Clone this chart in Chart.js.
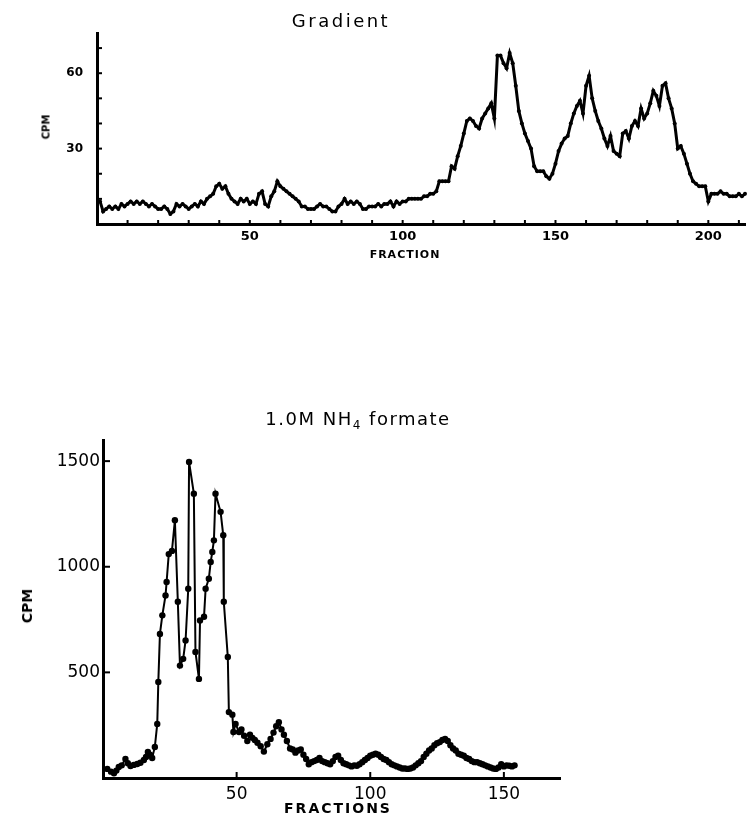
<!DOCTYPE html>
<html>
<head>
<meta charset="utf-8">
<script src="https://cdn.jsdelivr.net/npm/chart.js@4"></script>
<style>
  html, body { margin: 0; padding: 0; background: #fff; }
  body { width: 749px; height: 816px; position: relative; overflow: hidden;
         font-family: "DejaVu Sans", sans-serif; color: #000; }
  .box { position: absolute; left: 0; }
  .lbl { position: absolute; white-space: nowrap; font-weight: bold; transform: translate(-50%, -50%); }
  .rot { transform: translate(-50%, -50%) rotate(-90deg); }
</style>
</head>
<body>
<div class="box" style="top:0;width:749px;height:270px"><canvas id="top"></canvas></div>
<div class="box" style="top:400px;width:749px;height:416px"><canvas id="bottom"></canvas></div>

<div class="lbl" style="left:341px;top:20px;font-size:18px;font-weight:normal;letter-spacing:2.5px">Gradient</div>
<div class="lbl" style="left:405px;top:254px;font-size:11px;letter-spacing:1px">FRACTION</div>
<div class="lbl rot" style="left:46px;top:127px;font-size:10px">CPM</div>

<div class="lbl" style="left:358px;top:420px;font-size:18px;font-weight:normal;letter-spacing:1.5px">1.0M NH<sub style="font-size:12px">4</sub> formate</div>
<div class="lbl" style="left:338px;top:808px;font-size:14px;letter-spacing:2px">FRACTIONS</div>
<div class="lbl rot" style="left:27px;top:606px;font-size:14px">CPM</div>

<script>
/* Gradient elution: one count per fraction, fractions 1..212 */
const gradientCpm = [
   9, 5, 6, 7, 6, 7, 6, 8, 7, 8,   9, 8, 9, 8, 9, 8, 7, 8, 7, 6,
   6, 7, 6, 4, 5, 8, 7, 8, 7, 6,   7, 8, 7, 9, 8,10,11,12,15,16,
  14,15,12,10, 9, 8,10, 9,10, 8,   9, 8,12,13, 8, 7,11,13,17,15,
  14,13,12,11,10, 9, 7, 7, 6, 6,   6, 7, 8, 7, 7, 6, 5, 5, 7, 8,
  10, 8, 9, 8, 9, 8, 6, 6, 7, 7,   7, 8, 7, 8, 8, 9, 7, 9, 8, 9,
   9,10,10,10,10,10,11,11,12,12,  13,17,17,17,17,23,22,27,31,36,
  41,42,41,39,38,42,44,46,48,42,  67,67,64,62,68,64,55,45,40,36,
  33,30,23,21,21,21,19,18,20,24,  29,32,34,35,40,44,47,49,44,55,
  59,50,45,41,38,34,31,35,29,28,  27,36,37,34,39,41,39,46,42,44,
  48,53,51,47,55,56,50,46,40,30,  31,28,24,20,17,16,15,15,15, 9,
  12,12,12,13,12,12,11,11,11,12,  11,12
];
const gradientFractions = gradientCpm.map((_, i) => i + 1);
const gradientXTicks = [10, 20, 30, 40, 50, 60, 70, 80, 90, 100, 110, 120, 130, 140, 150, 160, 170, 180, 190, 200, 210];
const gradientXLabels = [50, 100, 150, 200];
const gradientYTicks = [10, 20, 30, 40, 50, 60, 70];
const gradientYLabels = [30, 60];

const formateFractions = [
  1.6, 3, 4.1, 5, 5.9, 7, 8.4, 9.3, 10.3, 11.5, 12.8, 14, 15.3, 16.1, 16.8, 17.6, 18.4, 19.4,
  20.3, 20.7, 21.3, 22.2, 23.4, 23.8, 24.6, 25.8, 26.9, 28, 28.8, 30, 30.9, 31.9, 32.2, 34,
  34.6, 35.9, 36.3, 37.8, 38.4, 39.6, 40.3, 40.9, 41.5, 42.1, 44, 45, 45.2, 46.7, 47.1, 48.4,
  48.8, 49.6, 50.9, 51.8, 52.8, 54, 55, 55.9, 56.8, 57.8, 59, 60.2, 61.5, 62.7, 63.8, 64.8,
  65.8, 66.8, 67.7, 68.8, 70,
  71, 72, 73, 74, 75, 76, 77, 78, 79, 80, 81, 82, 83, 84, 85, 86, 87, 88, 89, 90,
  91, 92, 93, 94, 95, 96, 97, 98, 99, 100, 101, 102, 103, 104, 105, 106, 107, 108, 109, 110,
  111, 112, 113, 114, 115, 116, 117, 118, 119, 120, 121, 122, 123, 124, 125, 126, 127, 128, 129, 130,
  131, 132, 133, 134, 135, 136, 137, 138, 139, 140, 141, 142, 143, 144, 145, 146, 147, 148, 149, 150,
  151, 152, 153, 154
];
const formateCpm = [
  43, 30, 22, 35, 52, 60, 90, 70, 57, 62, 66, 72, 85, 100, 123, 110, 95, 147,
  256, 455, 682, 770, 864, 928, 1060, 1075, 1220, 834, 532, 564, 651, 896, 1496, 1346,
  597, 469, 746, 763, 896, 943, 1023, 1070, 1125, 1346, 1260, 1149, 834, 573, 312, 300,
  218, 256, 218, 230, 200, 175, 205, 190, 180, 167, 150, 125, 160, 185, 215, 245,
  264, 230, 205, 175, 140,
  135, 120, 130, 135, 110, 90, 65, 75, 80, 85, 95, 80, 75, 70, 65, 80, 100, 105, 85, 70,
  65, 60, 55, 60, 58, 65, 75, 85, 95, 105, 110, 115, 110, 100, 90, 85, 75, 65, 60, 55,
  50, 45, 45, 43, 45, 50, 60, 70, 80, 100, 115, 130, 140, 155, 165, 170, 180, 185, 175, 155,
  140, 130, 115, 110, 105, 95, 90, 80, 75, 75, 70, 65, 60, 55, 50, 45, 43, 50, 65, 55,
  60, 58, 55, 60
];
const formateXTicks = [50, 100, 150];
const formateYTicks = [500, 1000, 1500];

/* tick marks drawn inward from the axis line, at each scale tick */
const innerTicks = {
  id: "innerTicks",
  afterDatasetsDraw(chart, args, opts) {
    const { ctx, chartArea: a } = chart;
    ctx.save();
    ctx.strokeStyle = "#000";
    ctx.lineWidth = 2;
    ["x", "y"].forEach(id => {
      const s = chart.scales[id];
      s.ticks.forEach(t => {
        const p = s.getPixelForValue(t.value);
        ctx.beginPath();
        if (id === "x") { ctx.moveTo(p, a.bottom); ctx.lineTo(p, a.bottom - opts[id]); }
        else { ctx.moveTo(a.left, p); ctx.lineTo(a.left + opts[id], p); }
        ctx.stroke();
      });
    });
    ctx.restore();
  },
};

Chart.defaults.font.family = "'DejaVu Sans', sans-serif";
Chart.defaults.color = "#000";

function axis(o) {
  return {
    type: "linear", min: o.min, max: o.max,
    afterBuildTicks: s => { s.ticks = o.ticks.map(value => ({ value })); },
    afterFit: s => { if (o.w) s.width = o.w; if (o.h) s.height = o.h; },
    grid: { display: true, drawOnChartArea: false, drawTicks: false },
    border: { display: true, color: "#000", width: 3 },
    ticks: {
      autoSkip: false, maxRotation: 0, padding: o.pad,
      font: { size: o.fs, weight: o.fw },
      callback: v => (o.labels.includes(v) ? String(v) : ""),
    },
  };
}

function lineChart(id, xs, ys, cfg) {
  return new Chart(document.getElementById(id), {
    type: "line",
    data: {
      datasets: [{
        data: xs.map((x, i) => ({ x, y: ys[i] })),
        borderColor: "#000", backgroundColor: "#000",
        borderWidth: cfg.lw, pointRadius: cfg.pr, pointBorderWidth: 0,
        tension: 0, clip: false,
      }],
    },
    options: {
      responsive: true, maintainAspectRatio: false, animation: false,
      layout: { padding: cfg.padding },
      plugins: { legend: { display: false }, tooltip: { enabled: false }, innerTicks: cfg.tickLen },
      scales: { x: axis(cfg.x), y: axis(cfg.y) },
    },
    plugins: [innerTicks],
  });
}

lineChart("top", gradientFractions, gradientCpm, {
  lw: 3, pr: 2,
  padding: { top: 33, right: 1, left: 0, bottom: 0 },
  x: { min: 0, max: 212, ticks: gradientXTicks, labels: gradientXLabels, pad: 5, fs: 13, fw: "bold", h: 46 },
  y: { min: 0, max: 76, ticks: gradientYTicks, labels: gradientYLabels, pad: 14, fs: 12, fw: "bold", w: 97 },
  tickLen: { x: 4, y: 5 },
});

lineChart("bottom", formateFractions, formateCpm, {
  lw: 2, pr: 3.2,
  padding: { top: 40, right: 189, left: 0, bottom: 0 },
  x: { min: 0, max: 171, ticks: formateXTicks, labels: formateXTicks, pad: 6, fs: 17, fw: "normal", h: 38 },
  y: { min: 0, max: 1600, ticks: formateYTicks, labels: formateYTicks, pad: 3, fs: 17, fw: "normal", w: 103 },
  tickLen: { x: 6, y: 7 },
});
</script>
</body>
</html>
